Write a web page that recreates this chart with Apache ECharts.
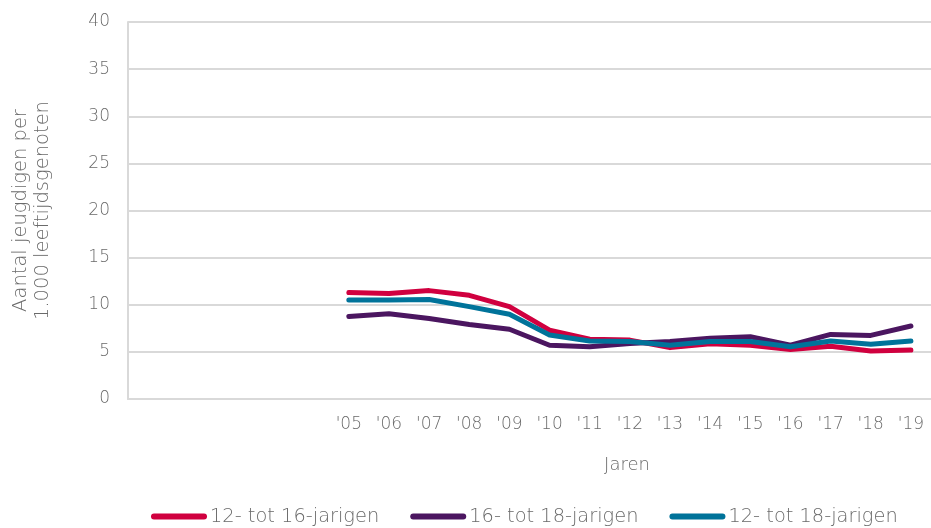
<!DOCTYPE html>
<html>
<head>
<meta charset="utf-8">
<script src="https://cdn.jsdelivr.net/npm/echarts@6/dist/echarts.min.js"></script>
<style>
  html, body { margin: 0; padding: 0; background: #fff; }
  #chart { width: 931px; height: 528px; }
</style>
</head>
<body>
<div id="chart"></div>
<script>
// Years on the x axis; the first five slots are left empty.
const years = ['', '', '', '', '', "'05", "'06", "'07", "'08", "'09", "'10", "'11", "'12", "'13", "'14", "'15", "'16", "'17", "'18", "'19"];

// Youths per 1,000 peers of the same age
const age12to16 = [null, null, null, null, null, 11.3, 11.2, 11.5, 11.0, 9.8, 7.3, 6.35, 6.25, 5.45, 5.85, 5.7, 5.25, 5.6, 5.1, 5.2];
const age16to18 = [null, null, null, null, null, 8.75, 9.05, 8.55, 7.9, 7.4, 5.7, 5.55, 5.9, 6.1, 6.45, 6.6, 5.7, 6.85, 6.75, 7.75];
const age12to18 = [null, null, null, null, null, 10.5, 10.5, 10.55, 9.8, 9.0, 6.8, 6.15, 6.1, 5.7, 6.1, 6.1, 5.55, 6.15, 5.8, 6.15];

const yTicks = { min: 0, max: 40, interval: 5 };

const seriesNames = ['12- tot 16-jarigen', '16- tot 18-jarigen', '12- tot 18-jarigen'];
const seriesColors = ['#D0003F', '#4B1660', '#00739A'];

const font = '"DejaVu Sans", sans-serif';
const grey = '#6a6a6a';

const chart = echarts.init(document.getElementById('chart'), null, { renderer: 'canvas' });

function lineSeries(name, data, color) {
  return {
    name: name,
    type: 'line',
    data: data,
    symbol: 'none',
    smooth: false,
    connectNulls: false,
    lineStyle: { color: color, width: 5, cap: 'round', join: 'round' },
    itemStyle: { color: color }
  };
}

chart.setOption({
  animation: false,
  backgroundColor: '#fff',
  title: {
    text: 'Jaren',
    left: 622,
    top: 451,
    textAlign: 'center',
    textStyle: { fontFamily: font, fontSize: 18, fontWeight: 300, color: grey }
  },
  grid: { left: 128, top: 22, width: 805, height: 377, containLabel: false },
  legend: {
    top: 507,
    left: 151,
    padding: 0,
    itemWidth: 56,
    itemHeight: 6,
    itemGap: 31,
    textStyle: { fontFamily: font, fontSize: 19.4, fontWeight: 300, color: grey, padding: [0, 0, 0, -2] },
    data: seriesNames.map((n, i) => ({
      name: n,
      icon: 'path://M3,0 L53,0 A3,3 0 0 1 53,6 L3,6 A3,3 0 0 1 3,0 Z',
      itemStyle: { color: seriesColors[i] }
    }))
  },
  xAxis: {
    type: 'category',
    data: years,
    boundaryGap: true,
    axisLine: { show: true, lineStyle: { color: '#d9d9d9', width: 2 } },
    axisTick: { show: false },
    axisLabel: { fontFamily: font, fontSize: 17, fontWeight: 300, color: grey, margin: 17, interval: 0 }
  },
  yAxis: {
    type: 'value',
    min: yTicks.min,
    max: yTicks.max,
    interval: yTicks.interval,
    name: 'Aantal jeugdigen per\n1.000 leeftijdsgenoten',
    nameLocation: 'middle',
    nameGap: 74,
    nameTextStyle: { fontFamily: font, fontSize: 19.5, fontWeight: 300, color: grey, lineHeight: 22 },
    axisLine: { show: true, lineStyle: { color: '#d9d9d9', width: 2 } },
    axisTick: { show: false },
    splitLine: { show: true, lineStyle: { color: '#d9d9d9', width: 2 } },
    axisLabel: { fontFamily: font, fontSize: 17, fontWeight: 300, color: grey, margin: 18 }
  },
  series: [
    lineSeries(seriesNames[0], age12to16, seriesColors[0]),
    lineSeries(seriesNames[1], age16to18, seriesColors[1]),
    lineSeries(seriesNames[2], age12to18, seriesColors[2])
  ]
});
</script>
</body>
</html>
